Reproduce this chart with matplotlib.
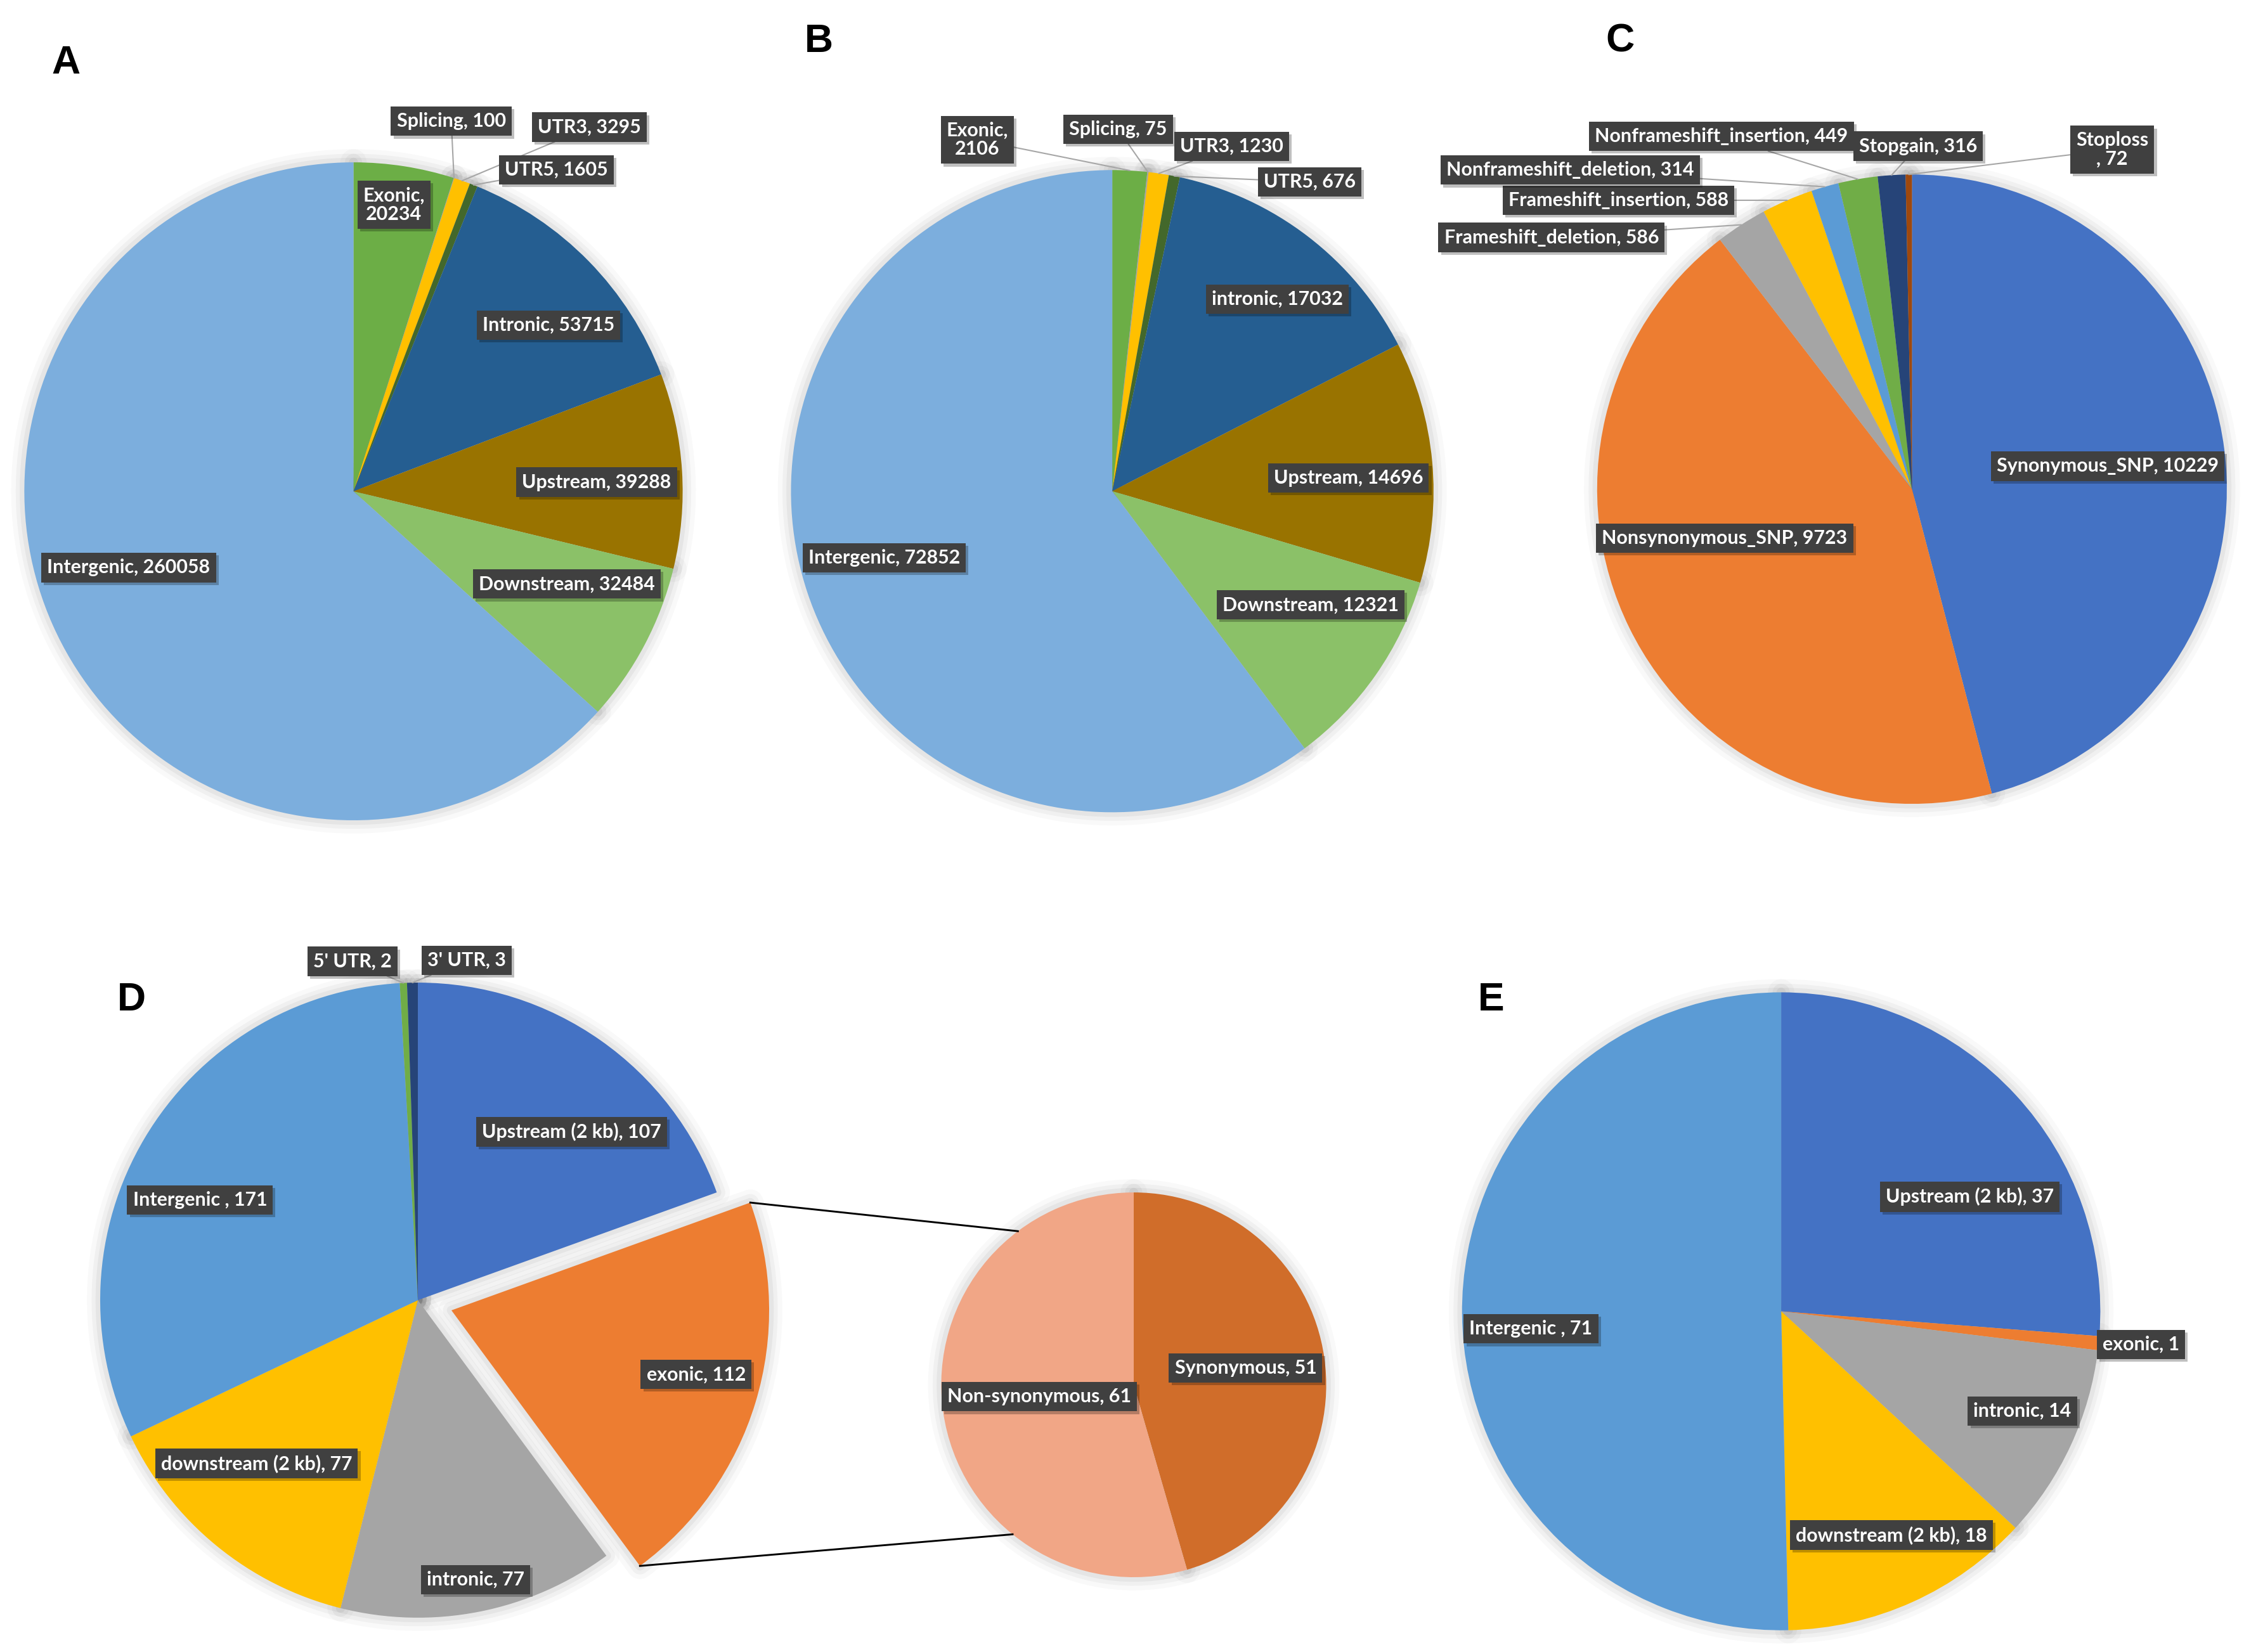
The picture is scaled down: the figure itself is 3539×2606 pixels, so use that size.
import numpy as np
import matplotlib.pyplot as plt
from matplotlib.patches import Wedge
import matplotlib.patheffects as pe

plt.rcParams['font.family'] = ['Lato', 'DejaVu Sans']

# ---- data ----
a_names = ['Exonic', 'Splicing', 'UTR3', 'UTR5', 'Intronic', 'Upstream', 'Downstream', 'Intergenic']
a_values = [20234, 100, 3295, 1605, 53715, 39288, 32484, 260058]

b_names = ['Exonic', 'Splicing', 'UTR3', 'UTR5', 'intronic', 'Upstream', 'Downstream', 'Intergenic']
b_values = [2106, 75, 1230, 676, 17032, 14696, 12321, 72852]

c_names = ['Synonymous_SNP', 'Nonsynonymous_SNP', 'Frameshift_deletion', 'Frameshift_insertion',
           'Nonframeshift_deletion', 'Nonframeshift_insertion', 'Stopgain', 'Stoploss']
c_values = [10229, 9723, 586, 588, 314, 449, 316, 72]

d_names = ['Upstream (2 kb)', 'exonic', 'intronic', 'downstream (2 kb)', 'Intergenic ', "5' UTR", "3' UTR"]
d_values = [107, 112, 77, 77, 171, 2, 3]

d_exonic_names = ['Synonymous', 'Non-synonymous']
d_exonic_values = [51, 61]

e_names = ['Upstream (2 kb)', 'exonic', 'intronic', 'downstream (2 kb)', 'Intergenic ']
e_values = [37, 1, 14, 18, 71]

# ---- colours ----
region_colors = ['#6cae46', '#a5a5a5', '#ffc000', '#43682b', '#255e91', '#997300', '#8bc168', '#7caedd']
c_colors = ['#4472c4', '#ed7d31', '#a5a5a5', '#ffc000', '#5b9bd5', '#70ad47', '#264478', '#9e480e']
d_colors = ['#4472c4', '#ed7d31', '#a5a5a5', '#ffc000', '#5b9bd5', '#70ad47', '#264478']
d_exonic_colors = ['#d06d2a', '#f1a686']
e_colors = ['#4472c4', '#ed7d31', '#a5a5a5', '#ffc000', '#5b9bd5']

# ---- layout (reference units, y measured downward) ----
W, H = 1568, 1155


def up(x, y):
    return (x, H - y)


# label centres, in pie radii from the pie centre (y upward)
a_pos = [(0.123, 0.871), (0.297, 1.125), (0.717, 1.107), (0.617, 0.977),
         (0.592, 0.505), (0.739, 0.028), (0.648, -0.282), (-0.683, -0.232)]
b_pos = [(-0.420, 1.094), (0.018, 1.127), (0.372, 1.074), (0.614, 0.963),
         (0.514, 0.598), (0.735, 0.041), (0.617, -0.354), (-0.710, -0.208)]
c_pos = [(0.621, 0.073), (-0.595, -0.156), (-1.145, 0.800), (-0.932, 0.918),
         (-1.086, 1.014), (-0.605, 1.121), (0.019, 1.090), (0.636, 1.079)]
d_pos = [(0.483, 0.530), (0.770, -0.202), (0.181, -0.880), (-0.508, -0.514),
         (-0.686, 0.315), (-0.205, 1.067), (0.154, 1.070)]
d_exonic_pos = [(0.581, 0.088), (-0.491, -0.062)]
e_pos = [(0.591, 0.359), (1.127, -0.104), (0.756, -0.313), (0.346, -0.701), (-0.784, -0.055)]

LABEL_FS = 7.3


def fmt(name, value, wrap=None):
    if wrap == 'after':
        return f'{name},\n{value}'
    if wrap == 'before':
        return f'{name}\n, {value}'
    return f'{name}, {value}'


def draw_pie(ax, values, colors, center, radius, explode=None):
    wedges, _ = ax.pie(values, colors=colors, startangle=90, counterclock=False,
                       center=center, radius=radius, explode=explode,
                       wedgeprops=dict(linewidth=0, zorder=2))
    # soft shadow like the office chart
    for w in wedges:
        for lw, al in [(10, 0.025), (6.5, 0.035), (3.5, 0.045)]:
            ax.add_patch(Wedge(w.center, w.r, w.theta1, w.theta2, facecolor='none',
                               edgecolor='black', lw=lw, alpha=al, zorder=1,
                               joinstyle='round'))
    return wedges


def draw_labels(ax, wedges, names, values, pos, leaders=(), wraps=None):
    wraps = wraps or {}
    for i, (w, name, val, rel) in enumerate(zip(wedges, names, values, pos)):
        cx, cy = w.center
        tx, ty = cx + rel[0] * w.r, cy + rel[1] * w.r
        txt = fmt(name, val, wraps.get(i))
        kw = dict(ha='center', va='center', color='white', fontsize=LABEL_FS,
                  fontweight='bold', linespacing=1.05, zorder=6,
                  bbox=dict(boxstyle='square,pad=0.3', fc='#404040', ec='none'))
        if i in leaders:
            mid = np.deg2rad((w.theta1 + w.theta2) / 2)
            px, py = cx + w.r * np.cos(mid), cy + w.r * np.sin(mid)
            t = ax.annotate(txt, xy=(px, py), xytext=(tx, ty),
                            arrowprops=dict(arrowstyle='-', color='#a6a6a6', lw=0.5,
                                            shrinkA=0, shrinkB=0), **kw)
        else:
            t = ax.text(tx, ty, txt, **kw)
        t.get_bbox_patch().set_path_effects(
            [pe.SimplePatchShadow(offset=(1, -1), shadow_rgbFace='black', alpha=0.25), pe.Normal()])


fig = plt.figure(figsize=(3539 / 300, 2606 / 300), dpi=300)
ax = fig.add_axes([0, 0, 1, 1])

# A
wa = draw_pie(ax, a_values, region_colors, up(247, 343.5), 230)
draw_labels(ax, wa, a_names, a_values, a_pos, leaders={1, 2, 3}, wraps={0: 'after'})

# B
wb = draw_pie(ax, b_values, region_colors, up(777.2, 343.4), 224.5)
draw_labels(ax, wb, b_names, b_values, b_pos, leaders={0, 1, 2, 3}, wraps={0: 'after'})

# C
wc = draw_pie(ax, c_values, c_colors, up(1336, 342), 220)
draw_labels(ax, wc, c_names, c_values, c_pos, leaders={2, 3, 4, 5, 6, 7}, wraps={7: 'before'})

# D: pie of pie, exonic slice pulled out
d_explode = [0, 24.5, 0, 0, 0, 0, 0]
wd = draw_pie(ax, d_values, d_colors, up(292, 909), 222, explode=d_explode)
draw_labels(ax, wd, d_names, d_values, d_pos, leaders={5, 6})

wd2 = draw_pie(ax, d_exonic_values, d_exonic_colors, up(792.2, 968.2), 134.5)
draw_labels(ax, wd2, d_exonic_names, d_exonic_values, d_exonic_pos)

ex = wd[1]
sx, sy = wd2[0].center
sr = wd2[0].r
for a_main, a_sec in [(ex.theta2, 127), (ex.theta1, 231)]:
    p0 = (ex.center[0] + ex.r * np.cos(np.deg2rad(a_main)),
          ex.center[1] + ex.r * np.sin(np.deg2rad(a_main)))
    p1 = (sx + sr * np.cos(np.deg2rad(a_sec)), sy + sr * np.sin(np.deg2rad(a_sec)))
    ax.plot([p0[0], p1[0]], [p0[1], p1[1]], color='black', lw=0.7, zorder=3)

# E
we = draw_pie(ax, e_values, e_colors, up(1244.6, 916.8), 223)
draw_labels(ax, we, e_names, e_values, e_pos)

# panel letters
for letter, (lx, ly) in zip('ABCDE', [(46, 44), (572, 29), (1132, 29), (92, 699), (1042, 699)]):
    ax.text(*up(lx, ly), letter, fontsize=15, fontweight='bold', family='Liberation Sans',
            ha='center', va='center', color='black')

ax.set_xlim(0, W)
ax.set_ylim(0, H)
ax.set_aspect('auto')
ax.axis('off')

fig.savefig('out.png', dpi=300, facecolor='white')
